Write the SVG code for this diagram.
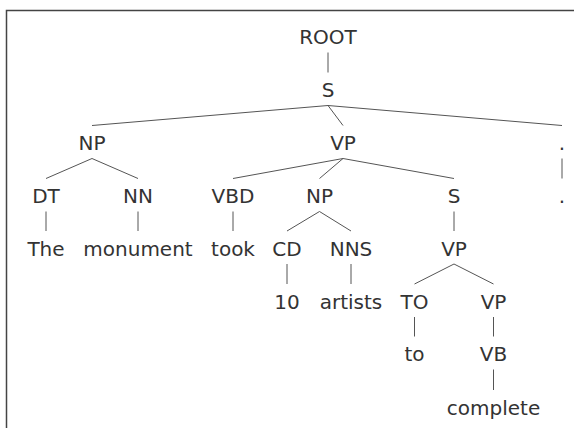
<svg xmlns="http://www.w3.org/2000/svg" width="574" height="428" viewBox="0 0 574 428">
  <style>
    .lbl { font-family: "DejaVu Sans", "Liberation Sans", sans-serif; font-size: 20px; fill: #333; text-anchor: middle; }
    .edge { stroke: #555; stroke-width: 1; fill: none; }
    .frame { stroke: #444; stroke-width: 1.5; fill: none; }
  </style>
  <rect width="574" height="428" fill="#fff"/>
  <!-- frame -->
  <path class="frame" d="M6.5,428 V10.5 H574"/>

  <!-- tree edges -->
  <g id="edges">
    <line class="edge" x1="328" y1="52.5" x2="328" y2="72.5"/>
    <line class="edge" x1="328" y1="105.5" x2="92" y2="125.5"/>
    <line class="edge" x1="328" y1="105.5" x2="343" y2="125.5"/>
    <line class="edge" x1="328" y1="105.5" x2="562" y2="125.5"/>
    <line class="edge" x1="92" y1="158.5" x2="46" y2="178.5"/>
    <line class="edge" x1="92" y1="158.5" x2="138" y2="178.5"/>
    <line class="edge" x1="343" y1="158.5" x2="233" y2="178.5"/>
    <line class="edge" x1="343" y1="158.5" x2="319.5" y2="178.5"/>
    <line class="edge" x1="343" y1="158.5" x2="454" y2="178.5"/>
    <line class="edge" x1="562" y1="158.5" x2="562" y2="178.5"/>
    <line class="edge" x1="46" y1="211.5" x2="46" y2="231"/>
    <line class="edge" x1="138" y1="211.5" x2="138" y2="231"/>
    <line class="edge" x1="233" y1="211.5" x2="233" y2="231"/>
    <line class="edge" x1="319.5" y1="211.5" x2="287" y2="231"/>
    <line class="edge" x1="319.5" y1="211.5" x2="351" y2="231"/>
    <line class="edge" x1="454" y1="211.5" x2="454" y2="231"/>
    <line class="edge" x1="287" y1="264" x2="287" y2="284"/>
    <line class="edge" x1="351" y1="264" x2="351" y2="284"/>
    <line class="edge" x1="454" y1="264" x2="414.5" y2="284"/>
    <line class="edge" x1="454" y1="264" x2="493.5" y2="284"/>
    <line class="edge" x1="414.5" y1="317" x2="414.5" y2="336.5"/>
    <line class="edge" x1="493.5" y1="317" x2="493.5" y2="336.5"/>
    <line class="edge" x1="493.5" y1="369.5" x2="493.5" y2="390"/>
  </g>

  <!-- tree nodes -->
  <g id="n-root"><text class="lbl" x="328" y="44">ROOT</text></g>
  <g id="n-s"><text class="lbl" x="328" y="97">S</text></g>
  <g id="n-np1"><text class="lbl" x="92" y="150">NP</text></g>
  <g id="n-vp1"><text class="lbl" x="343" y="150">VP</text></g>
  <g id="n-punct-tag"><text class="lbl" x="562" y="150">.</text></g>
  <g id="n-dt"><text class="lbl" x="46" y="203">DT</text></g>
  <g id="n-nn"><text class="lbl" x="138" y="203">NN</text></g>
  <g id="n-vbd"><text class="lbl" x="233" y="203">VBD</text></g>
  <g id="n-np2"><text class="lbl" x="319.5" y="203">NP</text></g>
  <g id="n-s2"><text class="lbl" x="454" y="203">S</text></g>
  <g id="n-punct"><text class="lbl" x="562" y="203">.</text></g>
  <g id="n-the"><text class="lbl" x="46" y="255.5">The</text></g>
  <g id="n-monument"><text class="lbl" x="138" y="255.5">monument</text></g>
  <g id="n-took"><text class="lbl" x="233" y="255.5">took</text></g>
  <g id="n-cd"><text class="lbl" x="287" y="255.5">CD</text></g>
  <g id="n-nns"><text class="lbl" x="351" y="255.5">NNS</text></g>
  <g id="n-vp2"><text class="lbl" x="454" y="255.5">VP</text></g>
  <g id="n-10"><text class="lbl" x="287" y="308.5">10</text></g>
  <g id="n-artists"><text class="lbl" x="351" y="308.5">artists</text></g>
  <g id="n-to-tag"><text class="lbl" x="414.5" y="308.5">TO</text></g>
  <g id="n-vp3"><text class="lbl" x="493.5" y="308.5">VP</text></g>
  <g id="n-to"><text class="lbl" x="414.5" y="361">to</text></g>
  <g id="n-vb"><text class="lbl" x="493.5" y="361">VB</text></g>
  <g id="n-complete"><text class="lbl" x="493.5" y="414.5">complete</text></g>
</svg>
